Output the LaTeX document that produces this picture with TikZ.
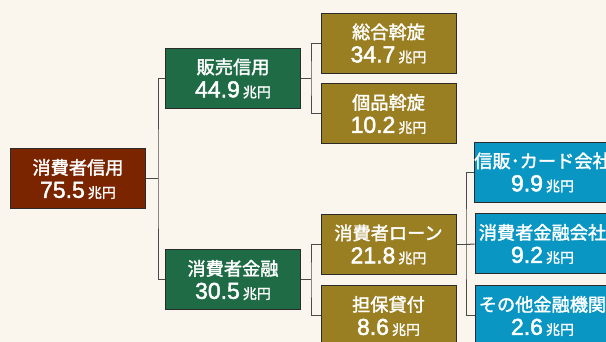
\documentclass[tikz,border=0pt]{standalone}
\usepackage{fontspec}
\newfontfamily\jp[FakeBold=1.8]{Noto Sans CJK JP}
\newfontfamily\jpu[FakeBold=1.5]{Noto Sans CJK JP}
\newfontfamily\numf[FakeBold=2]{Liberation Sans}
\definecolor{bgc}{HTML}{FAF6EE}
\definecolor{rootc}{HTML}{7A2400}
\definecolor{greenc}{HTML}{1E6B45}
\definecolor{olivec}{HTML}{9A7F22}
\definecolor{bluec}{HTML}{0A96C2}
\definecolor{edgec}{HTML}{2B2B2B}
\definecolor{linec}{HTML}{4A4A4A}
\newcommand{\lbl}[2]{{\jp\fontsize{18.2}{25}\selectfont #1}\\[-1.5pt]{\numf\fontsize{23}{25}\selectfont #2}\,{\jpu\fontsize{14}{25}\selectfont 兆円}}
\tikzset{
  box/.style={draw=edgec, line width=1pt, fill=#1, text=white, minimum width=135pt, minimum height=60pt, inner sep=0pt, align=center, font=\jp\fontsize{18.2}{25}\selectfont},
  conn/.style={draw=linec, line width=1pt}
}
\begin{document}
\begin{tikzpicture}[x=1pt,y=-1pt]
\fill[bgc] (0,0) rectangle (606,342);
\useasboundingbox (0,0) rectangle (606,342);
\node[box=rootc]  (root)    at (78,179)    {\lbl{消費者信用}{75.5}};
\node[box=greenc] (hanbai)  at (233,78.5)  {\lbl{販売信用}{44.9}};
\node[box=greenc] (kinyu)   at (233,280)   {\lbl{消費者金融}{30.5}};
\node[box=olivec] (sogo)    at (388.5,43.5){\lbl{総合斡旋}{34.7}};
\node[box=olivec] (kohin)   at (388.5,114) {\lbl{個品斡旋}{10.2}};
\node[box=olivec] (loan)    at (388.5,244.5){\lbl{消費者ローン}{21.8}};
\node[box=olivec] (tanpo)   at (388.5,316) {\lbl{担保貸付}{8.6}};
\node[box=bluec]  (shinpan) at (542.5,172.5){\lbl{信販･カード会社}{9.9}};
\node[box=bluec]  (shokin)  at (542.5,244) {\lbl{消費者金融会社}{9.2}};
\node[box=bluec]  (sonota)  at (542.5,316) {\lbl{その他金融機関}{2.6}};
\coordinate (b1) at (158,179);
\coordinate (b2) at (311,78.5);
\coordinate (b3) at (311,280);
\coordinate (b4) at (466,244.5);
\draw[conn] (root.east) -- (b1);
\draw[conn] (hanbai.west) -| (b1) |- (kinyu.west);
\draw[conn] (hanbai.east) -- (b2);
\draw[conn] (sogo.west) -| (b2) |- (kohin.west);
\draw[conn] (kinyu.east) -- (b3);
\draw[conn] (loan.west) -| (b3) |- (tanpo.west);
\draw[conn] (loan.east) -- (b4);
\draw[conn] (shinpan.west) -| (b4) |- (sonota.west);
\draw[conn] (b4) -- (shokin.west);
\end{tikzpicture}
\end{document}
